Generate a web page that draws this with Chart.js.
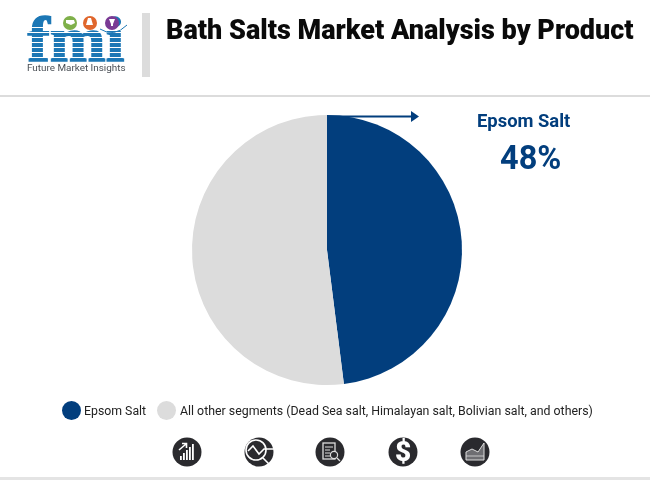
<!DOCTYPE html>
<html><head><meta charset="utf-8">
<script src="https://cdn.jsdelivr.net/npm/chart.js@4"></script>
<style>
html,body{margin:0;padding:0;background:#fff;}
#wrap{position:relative;width:650px;height:480px;overflow:hidden;font-family:Roboto,sans-serif;}
#c{position:absolute;left:0;top:0;}
svg{position:absolute;left:0;top:0;}
.t{position:absolute;white-space:nowrap;}
.lg{position:absolute;top:401px;width:19px;height:19px;border-radius:50%;}
</style></head><body>
<div id="wrap">
<canvas id="c" width="650" height="480" style="width:650px;height:480px"></canvas>
<svg width="650" height="480" viewBox="0 0 650 480">
  <rect x="0" y="95" width="650" height="2" fill="#dcdcdc"/>
  <rect x="0" y="477" width="650" height="3" fill="#e4e4e4"/>
  <rect x="142" y="13" width="8" height="64" fill="#dcdcdc"/>
  <!-- logo -->
  <g>
    <text x="76" y="61" text-anchor="middle" font-family="Liberation Serif" font-weight="700" font-size="64" fill="#1c77b5" stroke="#1c77b5" stroke-width="1.4" textLength="97" lengthAdjust="spacingAndGlyphs">fmi</text>
    <g fill="#fff">
      <rect x="26" y="27" width="102" height="1"/><rect x="26" y="32" width="102" height="1"/>
      <rect x="26" y="37" width="102" height="1"/><rect x="26" y="42" width="102" height="1"/>
      <rect x="26" y="47" width="102" height="1"/><rect x="26" y="52" width="102" height="1"/>
      <rect x="26" y="57" width="102" height="1"/>
    </g>
    <circle cx="70" cy="23" r="7" fill="#7fb04a"/>
    <circle cx="90" cy="23" r="7" fill="#e0662c"/>
    <circle cx="112" cy="23" r="7" fill="#7a3a94"/>
    <path d="M66 20h8l1 3-4 2-5-2z M88 18l3 0 2 7-7 0z M109 19h6l-2 5v2h-2v-2z" fill="#fff"/>
    <path d="M100 29 Q114 38 127 25" fill="none" stroke="#1c77b5" stroke-width="1"/>
  </g>
  <!-- arrow -->
  <path d="M327 116.5H412" stroke="#023e7d" stroke-width="2" fill="none"/>
  <path d="M411 111L419 116.5L411 122z" fill="#023e7d"/>
  <!-- icons -->
  <g fill="#2a2a2e">
    <circle cx="187" cy="452" r="14.5"/><circle cx="259" cy="452" r="14.5"/>
    <circle cx="330" cy="452" r="14.5"/><circle cx="403" cy="452" r="14.5"/><circle cx="475" cy="452" r="14.5"/>
  </g>
  <g fill="#fff">
    <rect x="180" y="456" width="1.8" height="4"/><rect x="183" y="453" width="1.8" height="7"/>
    <rect x="186" y="450" width="1.8" height="10"/><rect x="189" y="447" width="1.8" height="13"/><rect x="192" y="444" width="1.8" height="16"/>
  </g>
  <path d="M179 450L186 444M182 443.5h4.5v4.5" stroke="#fff" stroke-width="1.6" fill="none"/>
  <circle cx="256" cy="450" r="10" fill="none" stroke="#fff" stroke-width="1.6"/>
  <path d="M248 451L253 446L259 454L264 449H274M263 458L271 466" stroke="#fff" stroke-width="1.6" fill="none"/>
  <rect x="323" y="443" width="12" height="16" fill="none" stroke="#ddd" stroke-width="1.3"/>
  <path d="M325 447h8M325 450h5M325 453h5M325 456h5" stroke="#ddd" stroke-width="1"/>
  <circle cx="334" cy="455" r="3.6" fill="#2a2a2e" stroke="#ddd" stroke-width="1.2"/>
  <path d="M337 458L340 461" stroke="#ddd" stroke-width="1.2"/>
  <path d="M466 460V452L472 449L478 452L484 443V460z" fill="#6e6e72" stroke="#ddd" stroke-width="1"/>
  <path d="M466 456H484" stroke="#ddd" stroke-width="0.8"/>
</svg>
<div class="t" id="title" style="left:166px;top:14px;font-size:27px;font-weight:900;color:#0a0a0a;line-height:32px;"></div>
<div class="t" style="left:27px;top:61px;font-size:9.9px;color:#4a4f55;line-height:14px;">Future Market Insights</div>
<div class="t" id="calloutName" style="left:477px;top:109px;font-size:18.4px;font-weight:700;color:#023e7d;line-height:24px;"></div>
<div class="t" id="calloutVal" style="left:500px;top:138px;font-size:32.5px;font-weight:700;color:#023e7d;line-height:40px;"></div>
<div class="lg" id="sw0" style="left:62px;"></div>
<div class="t" id="lg0" style="left:84px;top:403px;font-size:12.3px;color:#222;line-height:17px;"></div>
<div class="lg" id="sw1" style="left:157px;"></div>
<div class="t" id="lg1" style="left:180px;top:403px;font-size:12.35px;color:#222;line-height:17px;"></div>
<div class="t" style="left:403px;top:452px;transform:translate(-50%,-50%);font-size:28px;font-weight:900;color:#fff;line-height:28px;">$</div>
</div>
<script>
const chartTitle = "Bath Salts Market Analysis by Product";
const categories = ["Epsom Salt", "All other segments (Dead Sea salt, Himalayan salt, Bolivian salt, and others)"];
const shares = [48, 52];
const colors = ["#023e7d", "#dcdcdc"];
const calloutText = "48%";

document.getElementById('title').textContent = chartTitle;
document.getElementById('calloutName').textContent = categories[0];
document.getElementById('calloutVal').textContent = calloutText;
document.getElementById('lg0').textContent = categories[0];
document.getElementById('lg1').textContent = categories[1];
document.getElementById('sw0').style.background = colors[0];
document.getElementById('sw1').style.background = colors[1];

new Chart(document.getElementById('c'), {
  type: 'pie',
  data: { labels: categories, datasets: [{ data: shares, backgroundColor: colors, borderWidth: 0 }] },
  options: {
    responsive: false, animation: false,
    layout: { padding: { left: 192, right: 188, top: 115, bottom: 95 } },
    plugins: { legend: { display: false }, tooltip: { enabled: false } }
  }
});
</script>
</body></html>
